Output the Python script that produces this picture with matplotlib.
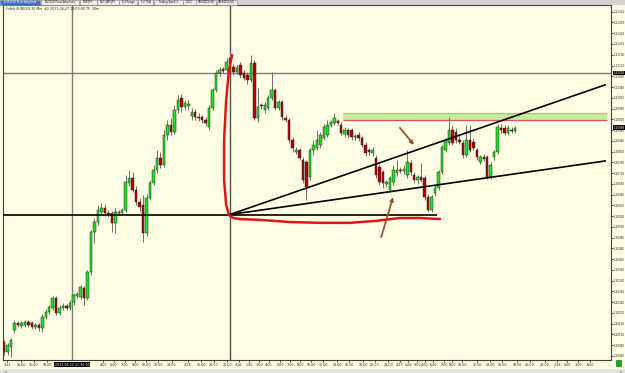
import matplotlib.pyplot as plt
import numpy as np
from matplotlib.patches import Rectangle

# EURUSD 30 min candles: (open, high, low, close)
candles = [
    (1.20092, 1.20100, 1.20044, 1.20055), (1.20055, 1.20089, 1.20044, 1.20081),
    (1.20074, 1.20107, 1.20036, 1.20100), (1.20137, 1.20174, 1.20126, 1.20163),
    (1.20163, 1.20170, 1.20148, 1.20155), (1.20152, 1.20170, 1.20144, 1.20163),
    (1.20155, 1.20174, 1.20148, 1.20166), (1.20166, 1.20174, 1.20148, 1.20155),
    (1.20163, 1.20170, 1.20141, 1.20148), (1.20148, 1.20163, 1.20141, 1.20155),
    (1.20155, 1.20163, 1.20133, 1.20144), (1.20144, 1.20196, 1.20129, 1.20185),
    (1.20185, 1.20215, 1.20178, 1.20204), (1.20204, 1.20230, 1.20196, 1.20222),
    (1.20219, 1.20263, 1.20211, 1.20256), (1.20256, 1.20263, 1.20193, 1.20200),
    (1.20200, 1.20230, 1.20193, 1.20219), (1.20219, 1.20237, 1.20211, 1.20226),
    (1.20226, 1.20234, 1.20211, 1.20219), (1.20219, 1.20248, 1.20211, 1.20237),
    (1.20241, 1.20274, 1.20230, 1.20267), (1.20263, 1.20278, 1.20256, 1.20271),
    (1.20260, 1.20304, 1.20252, 1.20297), (1.20293, 1.20300, 1.20230, 1.20256),
    (1.20256, 1.20360, 1.20248, 1.20352), (1.20352, 1.20508, 1.20341, 1.20501),
    (1.20501, 1.20553, 1.20460, 1.20538), (1.20538, 1.20602, 1.20527, 1.20583),
    (1.20576, 1.20609, 1.20564, 1.20590), (1.20590, 1.20605, 1.20561, 1.20572),
    (1.20572, 1.20583, 1.20557, 1.20568), (1.20572, 1.20579, 1.20501, 1.20535),
    (1.20535, 1.20590, 1.20497, 1.20576), (1.20572, 1.20583, 1.20564, 1.20576),
    (1.20572, 1.20590, 1.20568, 1.20583), (1.20583, 1.20713, 1.20576, 1.20687),
    (1.20683, 1.20732, 1.20672, 1.20702), (1.20702, 1.20724, 1.20650, 1.20657),
    (1.20657, 1.20672, 1.20602, 1.20613), (1.20613, 1.20628, 1.20576, 1.20594),
    (1.20602, 1.20639, 1.20464, 1.20497), (1.20497, 1.20642, 1.20486, 1.20628),
    (1.20628, 1.20694, 1.20620, 1.20683), (1.20683, 1.20750, 1.20676, 1.20732),
    (1.20732, 1.20806, 1.20720, 1.20776), (1.20776, 1.20799, 1.20739, 1.20750),
    (1.20750, 1.20880, 1.20743, 1.20862), (1.20862, 1.20917, 1.20843, 1.20899),
    (1.20899, 1.20925, 1.20862, 1.20873), (1.20873, 1.20973, 1.20865, 1.20955),
    (1.20955, 1.21010, 1.20943, 1.20992), (1.20999, 1.21014, 1.20947, 1.20966),
    (1.20966, 1.20992, 1.20955, 1.20981), (1.20969, 1.20992, 1.20955, 1.20977),
    (1.20932, 1.20962, 1.20917, 1.20947), (1.20947, 1.20958, 1.20917, 1.20929),
    (1.20929, 1.20943, 1.20914, 1.20925), (1.20929, 1.20936, 1.20906, 1.20917),
    (1.20917, 1.20929, 1.20895, 1.20906), (1.20891, 1.20973, 1.20880, 1.20962),
    (1.20962, 1.21036, 1.20955, 1.21029), (1.21029, 1.21103, 1.21022, 1.21092),
    (1.21092, 1.21114, 1.21081, 1.21103), (1.21107, 1.21114, 1.21092, 1.21100),
    (1.21103, 1.21148, 1.21096, 1.21133), (1.21148, 1.21170, 1.21118, 1.21129),
    (1.21114, 1.21126, 1.21085, 1.21096), (1.21096, 1.21122, 1.21088, 1.21111),
    (1.21122, 1.21133, 1.21074, 1.21085), (1.21092, 1.21103, 1.21066, 1.21074),
    (1.21085, 1.21096, 1.21051, 1.21066), (1.21066, 1.21159, 1.21059, 1.21129),
    (1.21129, 1.21140, 1.20917, 1.20925), (1.20925, 1.21036, 1.20910, 1.20966),
    (1.20973, 1.20981, 1.20958, 1.20969), (1.20955, 1.20984, 1.20943, 1.20973),
    (1.20962, 1.21010, 1.20955, 1.20999), (1.20999, 1.21096, 1.20992, 1.21029),
    (1.21029, 1.21036, 1.20955, 1.20962), (1.20962, 1.20992, 1.20955, 1.20984),
    (1.20984, 1.20992, 1.20917, 1.20929), (1.20925, 1.20936, 1.20910, 1.20917),
    (1.20917, 1.20925, 1.20832, 1.20843), (1.20843, 1.20854, 1.20799, 1.20814),
    (1.20799, 1.20817, 1.20791, 1.20806), (1.20806, 1.20814, 1.20769, 1.20776),
    (1.20769, 1.20780, 1.20683, 1.20694), (1.20762, 1.20769, 1.20620, 1.20668),
    (1.20706, 1.20814, 1.20694, 1.20806), (1.20806, 1.20843, 1.20788, 1.20825),
    (1.20814, 1.20880, 1.20806, 1.20843), (1.20825, 1.20873, 1.20814, 1.20862),
    (1.20851, 1.20903, 1.20843, 1.20891), (1.20862, 1.20917, 1.20854, 1.20899),
    (1.20899, 1.20917, 1.20891, 1.20910), (1.20906, 1.20943, 1.20899, 1.20925),
    (1.20914, 1.20921, 1.20899, 1.20906), (1.20899, 1.20910, 1.20862, 1.20869),
    (1.20865, 1.20891, 1.20854, 1.20880), (1.20880, 1.20888, 1.20851, 1.20862),
    (1.20880, 1.20888, 1.20843, 1.20854), (1.20854, 1.20865, 1.20843, 1.20858),
    (1.20862, 1.20873, 1.20840, 1.20851), (1.20851, 1.20858, 1.20817, 1.20825),
    (1.20825, 1.20836, 1.20784, 1.20795), (1.20806, 1.20814, 1.20788, 1.20799),
    (1.20795, 1.20817, 1.20784, 1.20806), (1.20776, 1.20788, 1.20702, 1.20713),
    (1.20743, 1.20754, 1.20676, 1.20687), (1.20724, 1.20732, 1.20665, 1.20683),
    (1.20680, 1.20694, 1.20668, 1.20687), (1.20657, 1.20709, 1.20650, 1.20702),
    (1.20687, 1.20750, 1.20676, 1.20732), (1.20720, 1.20769, 1.20709, 1.20732),
    (1.20732, 1.20743, 1.20720, 1.20728), (1.20728, 1.20750, 1.20717, 1.20735),
    (1.20713, 1.20806, 1.20702, 1.20762), (1.20758, 1.20769, 1.20713, 1.20724),
    (1.20713, 1.20724, 1.20683, 1.20694), (1.20694, 1.20713, 1.20680, 1.20706),
    (1.20706, 1.20758, 1.20687, 1.20694), (1.20702, 1.20713, 1.20620, 1.20631),
    (1.20631, 1.20642, 1.20576, 1.20583), (1.20583, 1.20639, 1.20576, 1.20631),
    (1.20646, 1.20676, 1.20635, 1.20665), (1.20665, 1.20732, 1.20657, 1.20724),
    (1.20724, 1.20825, 1.20717, 1.20817), (1.20806, 1.20851, 1.20799, 1.20843),
    (1.20832, 1.20929, 1.20825, 1.20880), (1.20880, 1.20899, 1.20825, 1.20832),
    (1.20873, 1.20888, 1.20832, 1.20843), (1.20843, 1.20858, 1.20828, 1.20836),
    (1.20832, 1.20843, 1.20776, 1.20788), (1.20788, 1.20899, 1.20780, 1.20843),
    (1.20843, 1.20899, 1.20799, 1.20806), (1.20836, 1.20851, 1.20806, 1.20814),
    (1.20806, 1.20814, 1.20769, 1.20780), (1.20762, 1.20788, 1.20754, 1.20780),
    (1.20780, 1.20791, 1.20765, 1.20773), (1.20780, 1.20788, 1.20698, 1.20706),
    (1.20706, 1.20762, 1.20698, 1.20750), (1.20780, 1.20806, 1.20769, 1.20799),
    (1.20799, 1.20903, 1.20791, 1.20891), (1.20888, 1.20903, 1.20869, 1.20880),
    (1.20888, 1.20899, 1.20862, 1.20869), (1.20869, 1.20899, 1.20862, 1.20888),
    (1.20880, 1.20891, 1.20869, 1.20877), (1.20877, 1.20895, 1.20869, 1.20888),
]

price_ticks = [round(1.20040 + 0.0004 * k, 5) for k in range(33)]

time_pos = [0.9, 4.9, 8.6, 12.4, 28.5, 31.6, 34.8, 37.7, 40.9, 44.3, 48.3, 52.9,
            56.7, 60.4, 64.2, 67.6, 70.5, 73.4, 76.2, 79.4, 82.3, 85.2, 88.3,
            91.8, 95.8, 99.3, 103.3, 106.7, 110.5, 113.9, 116.2, 118.8, 121.1,
            123.4, 126.6, 128.9, 131.8, 136.1, 139.8, 143.3, 147.6, 151.3,
            155.6, 159.1, 162.0, 165.1, 168.6]
time_labels = ['4-22', '14:00', '16:00', '18:00', '4:00', '6:00', '7:00', '9:00',
               '10:00', '12:00', '14:00', '4-23', '16:00', '20:00', '22:00', '4-26',
               '1:00', '3:00', '4:00', '6:00', '7:00', '9:00', '10:00', '12:00',
               '14:00', '16:00', '18:00', '20:00', '22:00', '4-27', '1:00', '3:00',
               '4:00', '6:00', '7:00', '9:00', '10:00', '12:00', '14:00', '16:00',
               '18:00', '20:00', '22:00', '4-28', '1:00', '3:00', '6:00']

# drawings made on the chart (bar index, price)
crosshair = (19.56, 1.21092)
vline_x = 65.0
support = (-0.3, 124.6, 1.20566)
trend_upper = ([65.0, 172.9], [1.20566, 1.21048])
trend_lower = ([65.0, 172.9], [1.20566, 1.20765])
zone = (97.5, 173.5, 1.20917, 1.20943)
red_x = [65.6, 64.7, 63.9, 63.3, 63.3, 63.9, 64.7, 65.9, 67.9, 73.6, 82.3, 90.9,
         99.5, 106.7, 113.9, 119.7, 125.4]
red_y = [1.21159, 1.21103, 1.20992, 1.20843, 1.20694, 1.20602, 1.20564, 1.20553,
         1.20549, 1.20546, 1.20538, 1.20535, 1.20535, 1.20542, 1.20553, 1.20553,
         1.20549]
arrows = [((113.9, 1.20888), (117.9, 1.20825)), ((108.5, 1.20482), (111.9, 1.20631))]
last_price = 1.20888

bg = '#fffee4'
small = dict(family='DejaVu Sans', fontstretch='condensed', fontsize=2.6)
tiny = dict(family='DejaVu Sans', fontstretch='condensed', fontsize=2.2)

fig = plt.figure(figsize=(6.25, 3.73), dpi=100, facecolor=bg)
ax = fig.add_axes([3 / 625, 1 - 360 / 373, 608 / 625, 355 / 373], facecolor=bg)

o, h, l, c = (np.array(v) for v in zip(*candles))
idx = np.arange(len(candles))
up = c >= o
ax.vlines(idx, l, h, color='#6e6e6e', lw=0.7, zorder=3)
ax.bar(idx, np.maximum(np.abs(c - o), 0.00003), bottom=np.minimum(o, c), width=0.72,
       color=np.where(up, '#1fe01f', '#b00000'), edgecolor='#2a2a2a', linewidth=0.35,
       zorder=4)

# zone
ax.add_patch(Rectangle((zone[0], zone[2]), zone[1] - zone[0], zone[3] - zone[2],
                       facecolor='#b9f3a2', edgecolor='none', zorder=1))
ax.hlines(zone[3], zone[0], zone[1], color='#f0a080', lw=0.9, zorder=2)
ax.hlines(zone[2], zone[0], zone[1], color='#e05050', lw=0.9, zorder=2)

# crosshair and lines
ax.axvline(crosshair[0], color='#7a7a7a', lw=1, zorder=2)
ax.axhline(crosshair[1], color='#7a7a7a', lw=1, zorder=2)
ax.axvline(vline_x, color='#505050', lw=1, zorder=2)
ax.hlines(support[2], support[0], support[1], color='black', lw=1.2, zorder=5)
ax.plot(*trend_upper, color='black', lw=1.2, zorder=5)
ax.plot(*trend_lower, color='black', lw=1.2, zorder=5)
ax.plot(red_x, red_y, color='#e01515', lw=1.8, zorder=6, solid_capstyle='round')
for start, end in arrows:
    ax.annotate('', xy=end, xytext=start, zorder=6,
                arrowprops=dict(arrowstyle='-|>', color='#a0522d', lw=1.3,
                                mutation_scale=5, shrinkA=0, shrinkB=0))

ax.set_xlim(-0.3, 174.6)
ax.set_ylim(1.20025, 1.21345)
ax.yaxis.tick_right()
ax.set_yticks(price_ticks)
ax.set_yticklabels([f'{p:.5f}' for p in price_ticks], color='#222222', **tiny)
ax.set_xticks(time_pos)
ax.set_xticklabels(time_labels, color='#222222', **small)
ax.tick_params(axis='y', length=1.5, width=0.5, pad=0.5)
ax.tick_params(axis='x', length=1.2, width=0.5, pad=0.8)
for s in ax.spines.values():
    s.set_color('#404040')
    s.set_linewidth(0.8)

# price boxes on the right axis
ytr = ax.get_yaxis_transform()
for p in (crosshair[1], last_price):
    ax.text(1.004, p, f'{p:.5f}', transform=ytr, color='white', va='center', ha='left',
            zorder=10, clip_on=False,
            bbox=dict(boxstyle='square,pad=0.15', fc='black', ec='none'), **tiny)

# crosshair time label
fig.text(72 / 625, 1 - 364.5 / 373, '2021.04.22 21:30:00', color='white', ha='center',
         va='center', bbox=dict(boxstyle='square,pad=0.25', fc='black', ec='none'),
         **small)

# info line
fig.text(6 / 625, 1 - 9 / 373, 'Fxlink EURUSD 30 Min  #2 2021-04-27 18:00:00 TF: 30m',
         color='#222222', va='center', **small)

# top tab bar
fig.patches.append(Rectangle((0, 1 - 4.5 / 373), 1, 4.5 / 373, transform=fig.transFigure,
                             facecolor='#d6d3ce', edgecolor='none'))
tabs = ['EUR/USD Pivot Ampliado', 'NZ/100 Pivot Ampliado', 'GBP/JPY', 'NZ GBP/JPY',
        'EU Range', 'EU TGA', 'Trading Swell 1', 'USDC', 'CADNZDUSD', 'CADNZDUSD']
tx = 0
for i, t in enumerate(tabs):
    w = len(t) * 1.55 + 6
    fig.patches.append(Rectangle((tx / 625, 1 - 4.5 / 373), w / 625, 4.5 / 373,
                                 transform=fig.transFigure, linewidth=0.4,
                                 facecolor='#3a6fd0' if i == 0 else '#ecebe8',
                                 edgecolor='#8a8a8a'))
    fig.text((tx + w / 2) / 625, 1 - 2.4 / 373, t, ha='center', va='center',
             color='white' if i == 0 else '#222222', family='DejaVu Sans', fontsize=1.9)
    tx += w + 0.5

# bottom scroll bar
fig.patches.append(Rectangle((0, 0), 1, 4.5 / 373, transform=fig.transFigure,
                             facecolor='#e4e4e4', edgecolor='none'))
fig.text(4 / 625, 2.2 / 373, '<', fontsize=3, va='center', color='#333333')
fig.text(619 / 625, 2.2 / 373, '>', fontsize=3, va='center', color='#333333')
fig.patches.append(Rectangle((616 / 625, 1 - 366 / 373), 5 / 625, 6 / 373,
                             transform=fig.transFigure, facecolor='#10b010',
                             edgecolor='#0a600a', linewidth=0.4))

plt.savefig('out.png', dpi=100, facecolor=bg)
